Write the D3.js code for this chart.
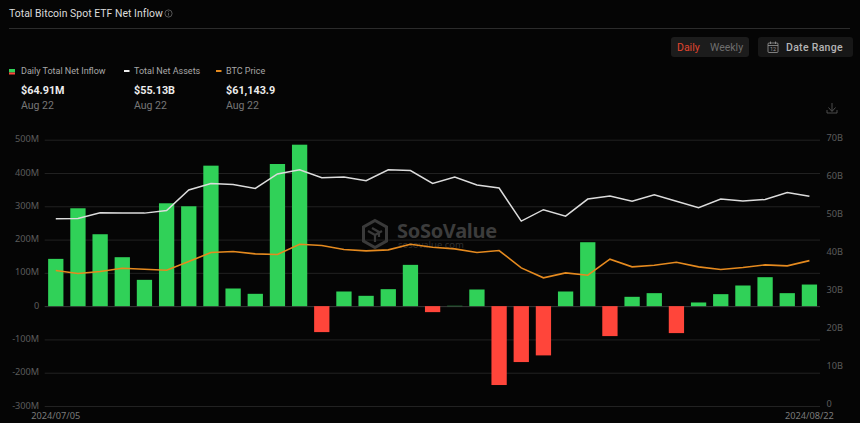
<!DOCTYPE html>
<html lang="en">
<head>
<meta charset="utf-8"/>
<title>Total Bitcoin Spot ETF Net Inflow</title>
<script src="https://d3js.org/d3.v7.min.js"></script>
<style>
  html, body { margin: 0; padding: 0; background: #050505; overflow: hidden; }
  svg { display: block; }
  text { font-family: "Noto Sans", sans-serif; }
  .ui text, .ui { font-family: Roboto, sans-serif; }
</style>
</head>
<body>
<svg id="chart" width="860" height="423"></svg>
<script>
  // trading days shown, first and last are the only labelled ones
  const dates = ["2024/07/05","2024/07/08","2024/07/09","2024/07/10","2024/07/11","2024/07/12","2024/07/15",
    "2024/07/16","2024/07/17","2024/07/18","2024/07/19","2024/07/22","2024/07/23","2024/07/24","2024/07/25",
    "2024/07/26","2024/07/29","2024/07/30","2024/07/31","2024/08/01","2024/08/02","2024/08/05","2024/08/06",
    "2024/08/07","2024/08/08","2024/08/09","2024/08/12","2024/08/13","2024/08/14","2024/08/15","2024/08/16",
    "2024/08/19","2024/08/20","2024/08/21","2024/08/22"];

  // daily net inflow, $M
  const inflow = [142, 294, 216, 147, 79, 309, 300, 422, 53, 37, 427, 485, -78, 44, 31, 51, 124, -18, 1, 50,
    -237, -168, -148, 44, 192, -90, 28, 39, -81, 11, 36, 62, 87, 39, 64.91];

  // total net assets, $B
  const netAssets = [49.2, 49.3, 50.8, 50.7, 50.7, 51.4, 56.8, 58.5, 58.2, 57.2, 61.0, 62.1, 60.0, 60.2, 59.2,
    62.1, 61.9, 58.5, 60.2, 58.1, 57.3, 48.6, 51.6, 49.9, 54.4, 55.2, 53.8, 55.5, 53.8, 52.1, 54.4, 53.9,
    54.3, 56.1, 55.13];

  // BTC price, $
  const btcPrice = [56980, 55720, 56560, 57960, 57540, 57120, 60760, 64540, 64960, 63980, 63700, 68040, 67480,
    65800, 65240, 65660, 68040, 66780, 66080, 64540, 65380, 58100, 53900, 56000, 55020, 61740, 58520, 59220,
    60480, 58520, 57400, 58240, 59360, 58940, 61143.9];

  const leftTicks = [-300, -200, -100, 0, 100, 200, 300, 400, 500];
  const rightTicks = [0, 10, 20, 30, 40, 50, 60, 70];

  const legendItems = [
    {name: "Daily Total Net Inflow", value: "$64.91M", date: "Aug 22"},
    {name: "Total Net Assets", value: "$55.13B", date: "Aug 22"},
    {name: "BTC Price", value: "$61,143.9", date: "Aug 22"}
  ];

  const green = "#30d158", red = "#ff453a", orange = "#e58a1f", white = "#dcdcdc";
  const plot = {left: 44.7, right: 820.5, top: 139.7, bottom: 406};

  const svg = d3.select("#chart");

  const x = d3.scaleBand().domain(dates).range([plot.left, plot.right]).paddingInner(0.31).paddingOuter(0.155);
  const yLeft = d3.scaleLinear().domain([-300, 500]).range([plot.bottom, plot.top]);
  const yRight = d3.scaleLinear().domain([0, 70]).range([plot.bottom, plot.top]);
  const yPrice = d3.scaleLinear().domain([0, 112000]).range([plot.bottom, plot.top]);

  // header
  const ui = svg.append("g").attr("class", "ui");
  ui.append("text").attr("x", 9).attr("y", 17).attr("font-size", 10.4).attr("fill", "#dcdcdc")
    .attr("letter-spacing", 0.05).text("Total Bitcoin Spot ETF Net Inflow");
  ui.append("circle").attr("cx", 168.5).attr("cy", 13.5).attr("r", 3.6)
    .attr("fill", "none").attr("stroke", "#777").attr("stroke-width", 0.7);
  ui.append("path").attr("d", "M168.5 12.8V15.6M168.5 11.2V11.9").attr("stroke", "#777").attr("stroke-width", 0.7);
  ui.append("line").attr("x1", 9).attr("x2", 850).attr("y1", 28.5).attr("y2", 28.5).attr("stroke", "#2c2c2c");

  // daily / weekly toggle and date range button
  ui.append("rect").attr("x", 671).attr("y", 37).attr("width", 78).attr("height", 20).attr("rx", 3).attr("fill", "#1c1c1c");
  ui.append("text").attr("x", 677).attr("y", 51).attr("font-size", 10.5).attr("fill", "#e0452e").text("Daily");
  ui.append("text").attr("x", 710).attr("y", 51).attr("font-size", 10.5).attr("fill", "#6e6e6e").text("Weekly");
  ui.append("rect").attr("x", 758).attr("y", 37).attr("width", 95).attr("height", 20).attr("rx", 3).attr("fill", "#171717");
  ui.append("text").attr("x", 786).attr("y", 51).attr("font-size", 10.5).attr("font-weight", 500)
    .attr("letter-spacing", 0.3).attr("fill", "#b4b4b4").text("Date Range");
  ui.append("rect").attr("x", 768).attr("y", 43).attr("width", 10).attr("height", 9.5).attr("rx", 1)
    .attr("fill", "none").attr("stroke", "#9a9a9a").attr("stroke-width", 0.8);
  ui.append("path").attr("d", "M768 45.5H778M770.5 41.5V44M775.5 41.5V44")
    .attr("stroke", "#9a9a9a").attr("stroke-width", 0.8).attr("fill", "none");
  ui.append("text").attr("x", 773).attr("y", 51.4).attr("text-anchor", "middle").attr("font-size", 5.5)
    .attr("fill", "#9a9a9a").text("12");

  // download icon
  ui.append("path").attr("d", "M832 103V111M828.5 107.5L832 111.5L835.5 107.5M827 110V113H837V110")
    .attr("fill", "none").attr("stroke", "#555").attr("stroke-width", 0.9);

  // legend
  const legendX = [21, 134, 226];
  const legend = ui.selectAll(".legend").data(legendItems).join("g").attr("class", "legend")
    .attr("transform", (d, i) => `translate(${legendX[i]},0)`);
  legend.append("text").attr("y", 74).attr("font-size", 9).attr("fill", "#a8a8a8").text(d => d.name);
  legend.append("text").attr("y", 94).attr("font-size", 10.8).attr("font-weight", 700).attr("fill", "#ececec").text(d => d.value);
  legend.append("text").attr("y", 108.5).attr("font-size", 10.5).attr("fill", "#777").text(d => d.date);
  ui.append("rect").attr("x", 9).attr("y", 69).attr("width", 6).attr("height", 3.5).attr("fill", green);
  ui.append("rect").attr("x", 9).attr("y", 72.5).attr("width", 6).attr("height", 2).attr("fill", red);
  ui.append("rect").attr("x", 124).attr("y", 70).attr("width", 5.5).attr("height", 2).attr("fill", "#eee");
  ui.append("rect").attr("x", 216).attr("y", 70).attr("width", 5.5).attr("height", 2).attr("fill", orange);

  // left axis with the grid
  const leftAxis = svg.append("g").attr("transform", `translate(${plot.left},0)`)
    .call(d3.axisLeft(yLeft).tickValues(leftTicks).tickSize(-(plot.right - 0.5 - plot.left)).tickPadding(5.5)
      .tickFormat(d => d === 0 ? "0" : d + "M"));
  leftAxis.select(".domain").remove();
  leftAxis.selectAll("line").attr("stroke", d => d === 0 ? "#3a3a3a" : "#222");
  leftAxis.selectAll("text").attr("fill", "#5c5c5c").attr("font-size", 9.2).attr("dy", "0.22em")
    .style("font-family", '"Noto Sans", sans-serif');

  // right axis has labels only
  const rightAxis = svg.append("g").attr("transform", `translate(${plot.right},0)`)
    .call(d3.axisRight(yRight).tickValues(rightTicks).tickSize(0).tickPadding(6)
      .tickFormat(d => d === 0 ? "0" : d + "B"));
  rightAxis.select(".domain").remove();
  rightAxis.selectAll("text").attr("fill", "#5c5c5c").attr("font-size", 9.2).attr("dy", "0.1em")
    .style("font-family", '"Noto Sans", sans-serif');

  // watermark, under the marks
  const mark = svg.append("g").attr("transform", "translate(375,234)");
  mark.append("path").attr("d", "M0 -13.5L11.5 -7V7L0 13.5L-11.5 7V-7Z")
    .attr("fill", "none").attr("stroke", "#3a3a3a").attr("stroke-width", 3);
  mark.append("path").attr("d", "M-7 -3L0 1V8M7 -3L0 1M-3 -6L4 -2V3")
    .attr("fill", "none").attr("stroke", "#3a3a3a").attr("stroke-width", 2.2);
  svg.append("text").attr("x", 397).attr("y", 237.5).attr("font-size", 20).attr("font-weight", 700)
    .attr("letter-spacing", -0.3).attr("fill", "#3c3c3c").text("SoSoValue");
  svg.append("text").attr("x", 398).attr("y", 248).attr("font-size", 9.5).attr("fill", "#2e2e2e").text("sosovalue.com");

  // bars
  svg.append("g").selectAll("rect").data(inflow).join("rect")
    .attr("x", (d, i) => x(dates[i]))
    .attr("width", x.bandwidth())
    .attr("y", d => yLeft(Math.max(d, 0)))
    .attr("height", d => Math.abs(yLeft(d) - yLeft(0)))
    .attr("fill", d => d >= 0 ? green : red);

  // lines
  const center = (d, i) => x(dates[i]) + x.bandwidth() / 2;
  svg.append("path").datum(netAssets)
    .attr("d", d3.line().x(center).y(d => yRight(d)))
    .attr("fill", "none").attr("stroke", white).attr("stroke-width", 1.5);
  svg.append("path").datum(btcPrice)
    .attr("d", d3.line().x(center).y(d => yPrice(d)))
    .attr("fill", "none").attr("stroke", orange).attr("stroke-width", 1.6);

  // x axis, first and last date only
  const xAxis = svg.append("g").attr("transform", `translate(0,${plot.bottom})`)
    .call(d3.axisBottom(x).tickValues([dates[0], dates[dates.length - 1]]).tickSize(0).tickPadding(6.5));
  xAxis.select(".domain").remove();
  xAxis.selectAll("text").attr("fill", "#7a7a7a").attr("font-size", 9.2).style("font-family", '"Noto Sans", sans-serif');
</script>
</body>
</html>
